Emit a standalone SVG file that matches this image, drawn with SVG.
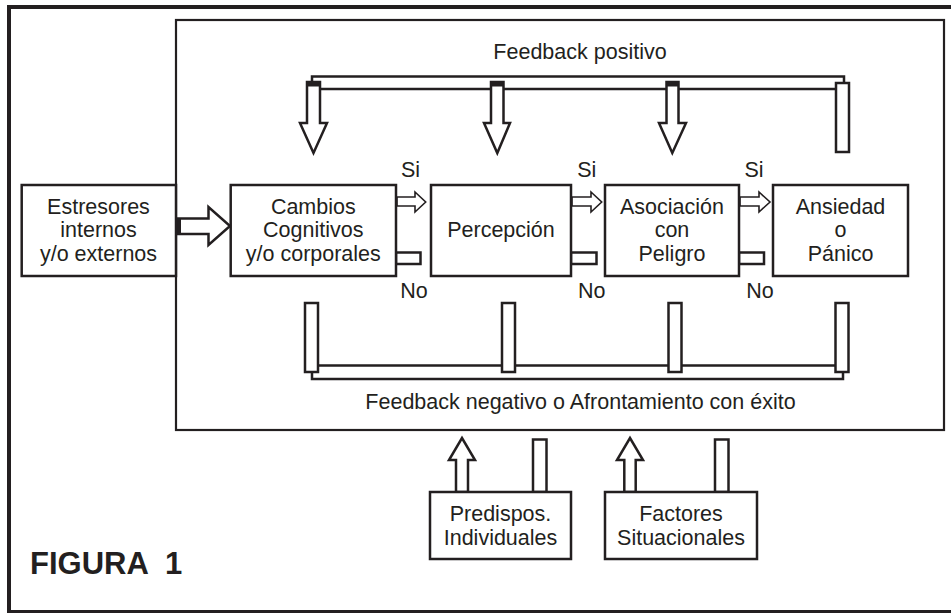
<svg xmlns="http://www.w3.org/2000/svg" width="951" height="613" viewBox="0 0 951 613">
<style>
.b{fill:#fff;stroke:#231f20;stroke-width:2.5}
.s{fill:#fff;stroke:#231f20;stroke-width:1.6}
.t{font-family:"Liberation Sans",Arial,Helvetica,sans-serif;font-size:21.5px;fill:#231f20;text-anchor:middle}
.k{fill:#231f20}
</style>
<rect width="951" height="613" fill="#fff"/>
<g id="frame">
<path d="M9,613 V7 H951" fill="none" stroke="#231f20" stroke-width="4"/>
<line x1="9" y1="611.5" x2="951" y2="611.5" stroke="#231f20" stroke-width="3"/>
<rect x="176" y="20" width="768" height="410" fill="none" stroke="#231f20" stroke-width="2.2"/>
</g>
<g id="connectors">
<rect class="b" x="312" y="76.5" width="532" height="12.5"/>
<polygon class="b" points="307,82 320,82 320,123 327,123 313.5,153 300,123 307,123"/>
<rect class="k" x="307" y="82" width="13" height="4.5"/>
<polygon class="b" points="491,82 503.5,82 503.5,123 510,123 497.3,153 484,123 491,123"/>
<rect class="k" x="491" y="82" width="12.5" height="4.5"/>
<polygon class="b" points="666.5,82 678.5,82 678.5,123 686,123 672.3,153 659,123 666.5,123"/>
<rect class="k" x="666.5" y="82" width="12" height="4.5"/>
<rect class="b" x="836" y="83" width="13" height="69"/>
<rect class="b" x="312" y="365.5" width="531" height="13.5"/>
<rect class="b" x="305" y="303" width="13" height="69"/>
<rect class="b" x="502" y="303" width="13" height="69"/>
<rect class="b" x="668.5" y="303" width="13" height="69"/>
<rect class="b" x="835.5" y="303" width="13" height="69"/>
<polygon class="b" points="176,218.5 208.5,218.5 208.5,207 230,226 208.5,245 208.5,234 176,234"/>
<rect class="k" x="176" y="218.5" width="5" height="15.5"/>
<polygon class="s" points="397,197 415,197 415,192 425.7,202 415,212 415,206 397,206"/>
<polygon class="s" points="572,197 591,197 591,192 601.7,202 591,212 591,206 572,206"/>
<polygon class="s" points="740,197 759,197 759,192 770,202 759,212 759,206 740,206"/>
<rect class="b" x="396" y="252.5" width="24.5" height="11.5" stroke-width="2"/>
<rect class="b" x="571" y="252.5" width="25.5" height="11.5" stroke-width="2"/>
<rect class="b" x="739" y="252.5" width="25" height="11.5" stroke-width="2"/>
<polygon class="b" points="456,492 468,492 468,460 475,460 462,438 449,460 456,460"/>
<rect class="b" x="533" y="439.5" width="13.5" height="52.5"/>
<polygon class="b" points="624.3,492 635.7,492 635.7,460 643,460 630,438 617,460 624.3,460"/>
<rect class="b" x="715" y="439.5" width="13.5" height="52.5"/>
</g>
<g id="estresores">
<rect class="b" x="21.7" y="185" width="154.3" height="91"/>
<text class="t" x="98.5" y="213.5">Estresores</text>
<text class="t" x="98.5" y="237">internos</text>
<text class="t" x="98.5" y="260.5">y/o externos</text>
</g>
<g id="cambios">
<rect class="b" x="230.7" y="185" width="165.3" height="91"/>
<text class="t" x="313.3" y="213.5">Cambios</text>
<text class="t" x="313.3" y="237">Cognitivos</text>
<text class="t" x="313.3" y="260.5">y/o corporales</text>
</g>
<g id="percepcion">
<rect class="b" x="431" y="185" width="140" height="91"/>
<text class="t" x="501" y="237">Percepción</text>
</g>
<g id="asociacion">
<rect class="b" x="605" y="185" width="134" height="91"/>
<text class="t" x="672" y="213.5">Asociación</text>
<text class="t" x="672" y="237">con</text>
<text class="t" x="672" y="260.5">Peligro</text>
</g>
<g id="ansiedad">
<rect class="b" x="773" y="185" width="135" height="91"/>
<text class="t" x="840.5" y="213.5">Ansiedad</text>
<text class="t" x="840.5" y="237">o</text>
<text class="t" x="840.5" y="260.5">Pánico</text>
</g>
<g id="predispos">
<rect class="b" x="430" y="492" width="141" height="67"/>
<text class="t" x="500.5" y="520.5">Predispos.</text>
<text class="t" x="500.5" y="545">Individuales</text>
</g>
<g id="factores">
<rect class="b" x="605" y="492" width="152" height="67"/>
<text class="t" x="681" y="520.5">Factores</text>
<text class="t" x="681" y="545">Situacionales</text>
</g>
<g id="labels">
<text class="t" x="580" y="59">Feedback positivo</text>
<text class="t" x="580.5" y="409">Feedback negativo o Afrontamiento con éxito</text>
<text class="t" x="410.5" y="177">Si</text>
<text class="t" x="586.7" y="177">Si</text>
<text class="t" x="754" y="177">Si</text>
<text class="t" x="414" y="298">No</text>
<text class="t" x="591.7" y="298">No</text>
<text class="t" x="760" y="298">No</text>
<text x="30" y="574" xml:space="preserve" style="font-family:'Liberation Sans',Arial,sans-serif;font-size:31px;font-weight:bold;fill:#231f20">FIGURA  1</text>
</g>
</svg>
